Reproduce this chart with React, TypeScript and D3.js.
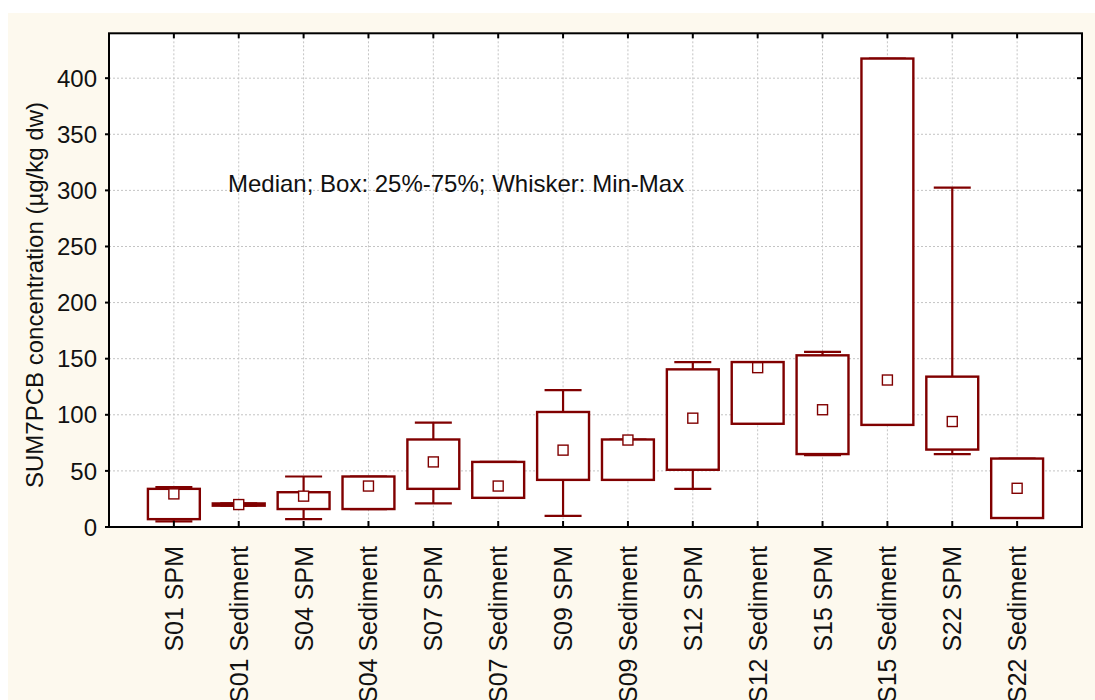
import { useEffect, useRef } from 'react';
import * as d3 from 'd3';

// Categories along the x axis
const categories = [
  "S01 SPM", "S01 Sediment", "S04 SPM", "S04 Sediment",
  "S07 SPM", "S07 Sediment", "S09 SPM", "S09 Sediment",
  "S12 SPM", "S12 Sediment", "S15 SPM", "S15 Sediment",
  "S22 SPM", "S22 Sediment",
];

// Box statistics (µg/kg dw)
const minValues = [5, 19, 7, 16, 21, 26, 10, 42, 34, 92, 64, 91, 65, 8];
const q1Values = [7, 19, 16, 16, 34, 26, 42, 42, 51, 92, 65, 91, 69, 8];
const medianValues = [29.5, 20, 27.5, 36.5, 58, 36.5, 68.5, 77.5, 97, 142, 104.5, 131, 94, 34.5];
const q3Values = [34, 21, 31, 45, 78, 58, 102.5, 78, 140.5, 147, 153, 417.5, 134, 61];
const maxValues = [35.5, 21, 45, 45, 93, 58, 122, 78, 147, 147, 156, 417.5, 302.5, 61];

const yTicks = [0, 50, 100, 150, 200, 250, 300, 350, 400];

const FONT = '"Liberation Sans", Arial, sans-serif';
const BOX_COLOR = "#800000";

export default function App() {
  const svgRef = useRef<SVGSVGElement>(null);

  useEffect(() => {
    if (!svgRef.current) return;
    const svg = d3.select(svgRef.current);
    svg.selectAll("*").remove();

    const W = 1095, H = 700;
    const plot = { left: 109, right: 1082, top: 33.3, bottom: 527 };

    // cream page background
    svg.append("rect")
      .attr("x", 8).attr("y", 13)
      .attr("width", W - 8).attr("height", H - 13)
      .style("fill", "#fdf9ee");

    // plot area
    svg.append("rect")
      .attr("x", plot.left).attr("y", plot.top)
      .attr("width", plot.right - plot.left).attr("height", plot.bottom - plot.top)
      .style("fill", "#ffffff");

    const x = d3.scalePoint<string>()
      .domain(categories)
      .range([plot.left, plot.right])
      .padding(1);

    const y = d3.scaleLinear()
      .domain([0, 440])
      .range([plot.bottom, plot.top]);

    // grid lines
    yTicks.slice(1).forEach(v => {
      svg.append("line")
        .attr("x1", plot.left).attr("x2", plot.right)
        .attr("y1", y(v)).attr("y2", y(v))
        .style("stroke", "#c4c4c4")
        .style("stroke-width", 1)
        .style("stroke-dasharray", "2,2");
    });
    categories.forEach(c => {
      svg.append("line")
        .attr("x1", x(c)!).attr("x2", x(c)!)
        .attr("y1", plot.top).attr("y2", plot.bottom)
        .style("stroke", "#c4c4c4")
        .style("stroke-width", 1)
        .style("stroke-dasharray", "2,2");
    });

    // annotation
    svg.append("text")
      .attr("x", 228).attr("y", 192)
      .style("font-family", FONT)
      .style("font-size", "24px")
      .style("fill", "#111")
      .text("Median; Box: 25%-75%; Whisker: Min-Max");

    // boxes
    const boxW = x.step() * 0.8;
    const capW = 37;
    const sq = 10;
    const stats = categories.map((c, i) => ({
      name: c,
      min: minValues[i], q1: q1Values[i], median: medianValues[i], q3: q3Values[i], max: maxValues[i],
    }));

    const g = svg.append("g").selectAll("g.box")
      .data(stats)
      .enter()
      .append("g")
      .attr("class", "box");

    // whiskers
    g.append("line")
      .attr("x1", d => x(d.name)!).attr("x2", d => x(d.name)!)
      .attr("y1", d => y(d.q3)).attr("y2", d => y(d.max))
      .style("stroke", BOX_COLOR).style("stroke-width", 2.2);
    g.append("line")
      .attr("x1", d => x(d.name)!).attr("x2", d => x(d.name)!)
      .attr("y1", d => y(d.q1)).attr("y2", d => y(d.min))
      .style("stroke", BOX_COLOR).style("stroke-width", 2.2);
    g.append("line")
      .attr("x1", d => x(d.name)! - capW / 2).attr("x2", d => x(d.name)! + capW / 2)
      .attr("y1", d => y(d.max)).attr("y2", d => y(d.max))
      .style("stroke", BOX_COLOR).style("stroke-width", 2.2);
    g.append("line")
      .attr("x1", d => x(d.name)! - capW / 2).attr("x2", d => x(d.name)! + capW / 2)
      .attr("y1", d => y(d.min)).attr("y2", d => y(d.min))
      .style("stroke", BOX_COLOR).style("stroke-width", 2.2);

    g.append("rect")
      .attr("x", d => x(d.name)! - boxW / 2)
      .attr("y", d => y(d.q3))
      .attr("width", boxW)
      .attr("height", d => Math.max(0, y(d.q1) - y(d.q3)))
      .style("fill", "#ffffff")
      .style("stroke", BOX_COLOR)
      .style("stroke-width", 2.4);

    // median markers
    g.append("rect")
      .attr("x", d => x(d.name)! - sq / 2)
      .attr("y", d => y(d.median) - sq / 2)
      .attr("width", sq).attr("height", sq)
      .style("fill", "#ffffff")
      .style("stroke", BOX_COLOR)
      .style("stroke-width", 1.4);

    // frame
    const axisStyle = (sel: any) => sel.style("stroke", "#000").style("stroke-width", 2);
    axisStyle(svg.append("rect")
      .attr("x", plot.left).attr("y", plot.top)
      .attr("width", plot.right - plot.left).attr("height", plot.bottom - plot.top)
      .style("fill", "none"));

    // y ticks (left outward, right inward)
    yTicks.forEach(v => {
      axisStyle(svg.append("line")
        .attr("x1", plot.left - 4).attr("x2", plot.left + 1)
        .attr("y1", y(v)).attr("y2", y(v)));
      axisStyle(svg.append("line")
        .attr("x1", plot.right - 5).attr("x2", plot.right)
        .attr("y1", y(v)).attr("y2", y(v)));
      svg.append("text")
        .attr("x", plot.left - 12)
        .attr("y", y(v))
        .attr("dy", "0.36em")
        .attr("text-anchor", "end")
        .style("font-family", FONT)
        .style("font-size", "24px")
        .style("fill", "#111")
        .text(v);
    });

    // x ticks (top & bottom inward)
    categories.forEach(c => {
      axisStyle(svg.append("line")
        .attr("x1", x(c)!).attr("x2", x(c)!)
        .attr("y1", plot.top).attr("y2", plot.top + 5));
      axisStyle(svg.append("line")
        .attr("x1", x(c)!).attr("x2", x(c)!)
        .attr("y1", plot.bottom).attr("y2", plot.bottom - 6));
      svg.append("text")
        .attr("transform", `translate(${x(c)},${plot.bottom + 19}) rotate(-90)`)
        .attr("dy", "0.36em")
        .attr("text-anchor", "end")
        .style("font-family", FONT)
        .style("font-size", "25px")
        .style("fill", "#111")
        .text(c);
    });

    // y axis title
    svg.append("text")
      .attr("transform", `translate(34,295) rotate(-90)`)
      .attr("dy", "0.36em")
      .attr("text-anchor", "middle")
      .style("font-family", FONT)
      .style("font-size", "24px")
      .style("fill", "#111")
      .text("SUM7PCB concentration (µg/kg dw)");
  }, []);

  return (
    <svg
      ref={svgRef}
      width={1095}
      height={700}
      style={{ position: "absolute", left: 0, top: 0, background: "#ffffff" }}
    />
  );
}
